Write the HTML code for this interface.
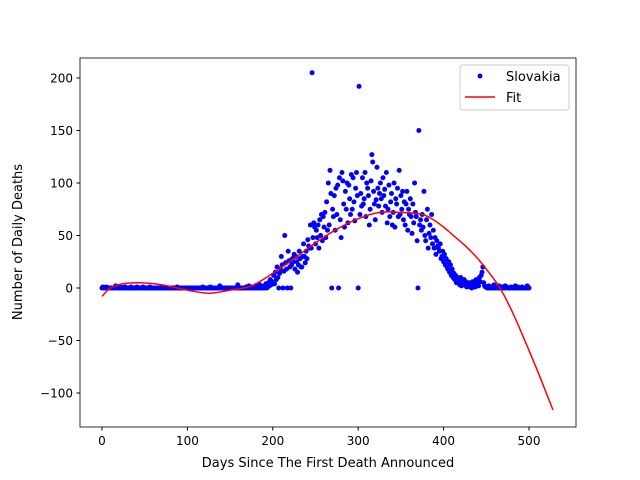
<!DOCTYPE html>
<html><head><meta charset="utf-8"><style>
body{margin:0;background:#fff}
svg{display:block;font-family:"DejaVu Sans","Liberation Sans",sans-serif}
</style></head><body>
<svg id="chart" width="640" height="480">
<rect width="640" height="480" fill="#fff"/>
<g id="plot"></g>
<rect x="80" y="58" width="496" height="369" fill="none" stroke="#000" stroke-width="0.8"/>
<g id="xt"></g>
<g id="yt"></g>
<text x="328" y="467" font-size="13" text-anchor="middle">Days Since The First Death Announced</text>
<text transform="translate(22,242) rotate(-90)" font-size="13" text-anchor="middle">Number of Daily Deaths</text>
<g>
<rect x="460" y="65" width="109" height="45" rx="3" fill="#fff" fill-opacity="0.8" stroke="#ccc"/>
<circle cx="480" cy="76" r="2.5" fill="#0000ff"/>
<text x="506" y="81" font-size="13">Slovakia</text>
<line x1="465" y1="97" x2="495" y2="97" stroke="#ff0000" stroke-width="1.5"/>
<text x="506" y="102" font-size="13">Fit</text>
</g>
</svg>
<script>
const deaths = [
0,1,0,0,0,1,0,0,0,0,0,0,0,0,0,0,2,0,1,0,0,0,1,0,0,
0,0,1,0,0,0,0,0,0,1,0,0,0,0,0,0,1,0,0,0,0,0,0,1,0,
0,0,0,0,0,0,1,0,0,0,0,0,0,0,0,0,0,0,0,0,1,0,0,0,0,
0,0,0,0,0,0,0,0,0,0,0,0,0,1,0,0,0,0,0,0,0,0,0,0,0,
0,0,0,0,0,0,0,0,0,0,0,0,0,0,0,0,0,0,1,0,0,0,0,0,0,
0,0,1,0,0,0,0,0,0,0,0,0,0,2,0,0,0,0,0,0,0,0,0,0,0,
0,0,0,0,0,0,0,0,0,3,0,0,0,0,0,0,0,0,0,1,0,0,2,0,0,
0,1,0,0,0,2,0,0,1,0,3,0,0,1,0,2,0,4,0,1,5,2,8,3,6,
5,12,4,15,8,20,10,0,14,18,30,22,0,16,50,24,18,0,35,26,20,0,22,28,25,
32,18,30,25,15,22,35,28,20,20,30,42,30,24,35,28,46,40,38,60,38,205,48,62,58,
42,55,48,60,38,65,50,70,45,68,58,72,48,82,55,100,60,112,90,0,75,68,88,55,95,
70,98,0,105,65,48,110,102,80,58,92,75,100,62,98,85,70,108,75,105,82,64,95,110,88,
0,192,70,90,78,105,80,85,110,68,100,95,88,60,75,102,127,120,92,80,65,84,115,95,78,
90,100,85,72,105,88,94,78,110,62,75,98,68,82,90,60,72,100,58,85,80,95,68,112,70,
88,75,92,65,82,60,80,92,55,75,70,85,68,52,80,62,100,72,68,45,0,150,60,65,55,
70,58,92,50,45,65,75,38,52,60,48,70,42,55,38,48,32,45,40,38,35,42,28,30,35,
25,32,22,28,20,18,25,15,22,12,18,10,14,8,12,5,10,6,8,3,10,2,6,4,8,
3,6,1,4,2,5,1,3,0,6,2,4,1,8,3,5,2,10,6,12,15,20,5,2,1,
1,0,0,2,0,1,0,0,0,3,0,0,1,0,0,2,0,0,1,0,0,0,2,0,1,
0,0,0,0,1,0,0,0,0,2,0,0,1,0,0,0,0,1,0,0,0,0,0,2,0,
0
];
const fitDays = [0,10,25,45,70,100,125,150,175,200,225,250,275,300,325,350,375,388,400,410,427,440,451,466,480,493,510,528];
const fitVals = [-8,0,4,5,3,-2,-5,-2,2,14,28,43,56,66,72,72,70,65,58,51,39,28,17,0,-22,-46,-79,-116];
const xTicks = [0,100,200,300,400,500];
const yTicks = [-100,-50,0,50,100,150,200];
const NS='http://www.w3.org/2000/svg';
const xs = d => 102 + d*0.854;
const ys = v => 288 - v*1.05;
const plot = document.getElementById('plot');
deaths.forEach((v,i)=>{
  const c=document.createElementNS(NS,'circle');
  c.setAttribute('cx',xs(i));c.setAttribute('cy',ys(v));c.setAttribute('r',2.5);c.setAttribute('fill','#0000ff');
  
  
  plot.appendChild(c);
});
const pts = fitDays.map((d,i)=>[xs(d),ys(fitVals[i])]);
let dstr = 'M'+pts[0][0]+','+pts[0][1];
for(let i=0;i<pts.length-1;i++){
  const p0=pts[Math.max(0,i-1)],p1=pts[i],p2=pts[i+1],p3=pts[Math.min(pts.length-1,i+2)];
  const c1=[p1[0]+(p2[0]-p0[0])/6,p1[1]+(p2[1]-p0[1])/6];
  const c2=[p2[0]-(p3[0]-p1[0])/6,p2[1]-(p3[1]-p1[1])/6];
  dstr+=' C'+c1+' '+c2+' '+p2;
}
const p=document.createElementNS(NS,'path');
p.setAttribute('d',dstr);
p.setAttribute('fill','none');p.setAttribute('stroke','#ff0000');p.setAttribute('stroke-width','1.5');


plot.appendChild(p);
const xt=document.getElementById('xt');
xTicks.forEach(t=>{
  const l=document.createElementNS(NS,'line');
  l.setAttribute('x1',xs(t));l.setAttribute('x2',xs(t));l.setAttribute('y1',427);l.setAttribute('y2',430.5);l.setAttribute('stroke','#000');
  
  
  xt.appendChild(l);
  const tx=document.createElementNS(NS,'text');
  tx.setAttribute('x',xs(t));tx.setAttribute('y',445);tx.setAttribute('font-size','12');tx.setAttribute('text-anchor','middle');
  tx.textContent=t;
  
  
  xt.appendChild(tx);
});
const yt=document.getElementById('yt');
yTicks.forEach(t=>{
  const l=document.createElementNS(NS,'line');
  l.setAttribute('x1',76.5);l.setAttribute('x2',80);l.setAttribute('y1',ys(t));l.setAttribute('y2',ys(t));l.setAttribute('stroke','#000');
  
  
  yt.appendChild(l);
  const tx=document.createElementNS(NS,'text');
  tx.setAttribute('x',73);tx.setAttribute('y',ys(t)+4.5);tx.setAttribute('font-size','12');tx.setAttribute('text-anchor','end');
  tx.textContent=t<0?'\u2212'+(-t):t;
  
  
  yt.appendChild(tx);
});
</script>
</body></html>
